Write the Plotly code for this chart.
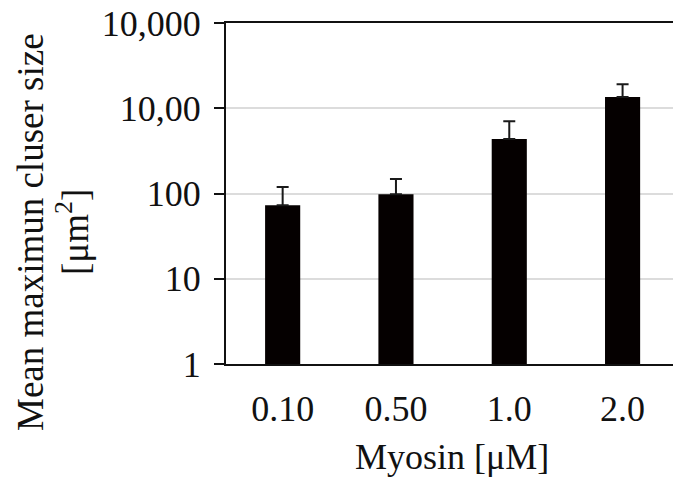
import plotly.graph_objects as go

categories = ["0.10", "0.50", "1.0", "2.0"]
means = [73, 98, 436, 1355]
err_upper = [46, 50, 267, 555]
err_lower = [0, 0, 0, 0]
ytick_vals = [1, 10, 100, 1000, 10000]
ytick_text = ["1", "10", "100", "10,00", "10,000"]

FONT = "Liberation Serif, Times New Roman, serif"
W, H = 673, 482
L, R, T, B = 226, 0, 23, 118
pw, ph = W - L - R, H - T - B

def px_x(x):
    return (x - L) / pw

def px_y(y):
    return (H - B - y) / ph

fig = go.Figure()
fig.add_trace(go.Bar(
    x=categories, y=means,
    marker=dict(color="#050000", line=dict(width=0)),
    width=0.31,
    error_y=dict(type="data", symmetric=False, array=err_upper, arrayminus=err_lower,
                 color="#1a1a1a", thickness=2, width=6),
))

fig.update_layout(
    width=W, height=H,
    margin=dict(l=L, r=R, t=T, b=B, pad=0),
    paper_bgcolor="white", plot_bgcolor="white",
    showlegend=False,
    font=dict(family=FONT, size=36, color="#111111"),
    xaxis=dict(
        type="category", range=[-0.5, 3.445],
        showline=True, linecolor="#111111", linewidth=2, mirror=True,
        ticks="", showgrid=False, ticklabelstandoff=12,
        tickfont=dict(family=FONT, size=36, color="#111111"),
    ),
    yaxis=dict(
        type="log", range=[0, 4],
        tickvals=ytick_vals, ticktext=ytick_text,
        showline=True, linecolor="#111111", linewidth=2, mirror=False,
        ticks="outside", ticklen=10, tickwidth=2, tickcolor="#111111",
        showgrid=True, gridcolor="#dcdcdc", gridwidth=1.5,
        ticklabelstandoff=6, zeroline=False,
        tickfont=dict(family=FONT, size=36, color="#111111"),
    ),
    annotations=[
        dict(text="Myosin [μM]", xref="paper", yref="paper",
             x=px_x(452), y=px_y(457), xanchor="center", yanchor="middle",
             showarrow=False, font=dict(family=FONT, size=36, color="#111111")),
        dict(text="Mean maximun cluser size", xref="paper", yref="paper",
             x=px_x(30), y=px_y(232), xanchor="center", yanchor="middle",
             textangle=-90, showarrow=False,
             font=dict(family=FONT, size=37, color="#111111")),
        dict(text="[μm<sup>2</sup>]", xref="paper", yref="paper",
             x=px_x(72), y=px_y(232), xanchor="center", yanchor="middle",
             textangle=-90, showarrow=False,
             font=dict(family=FONT, size=37, color="#111111")),
    ],
)

fig.write_html("out.html")
